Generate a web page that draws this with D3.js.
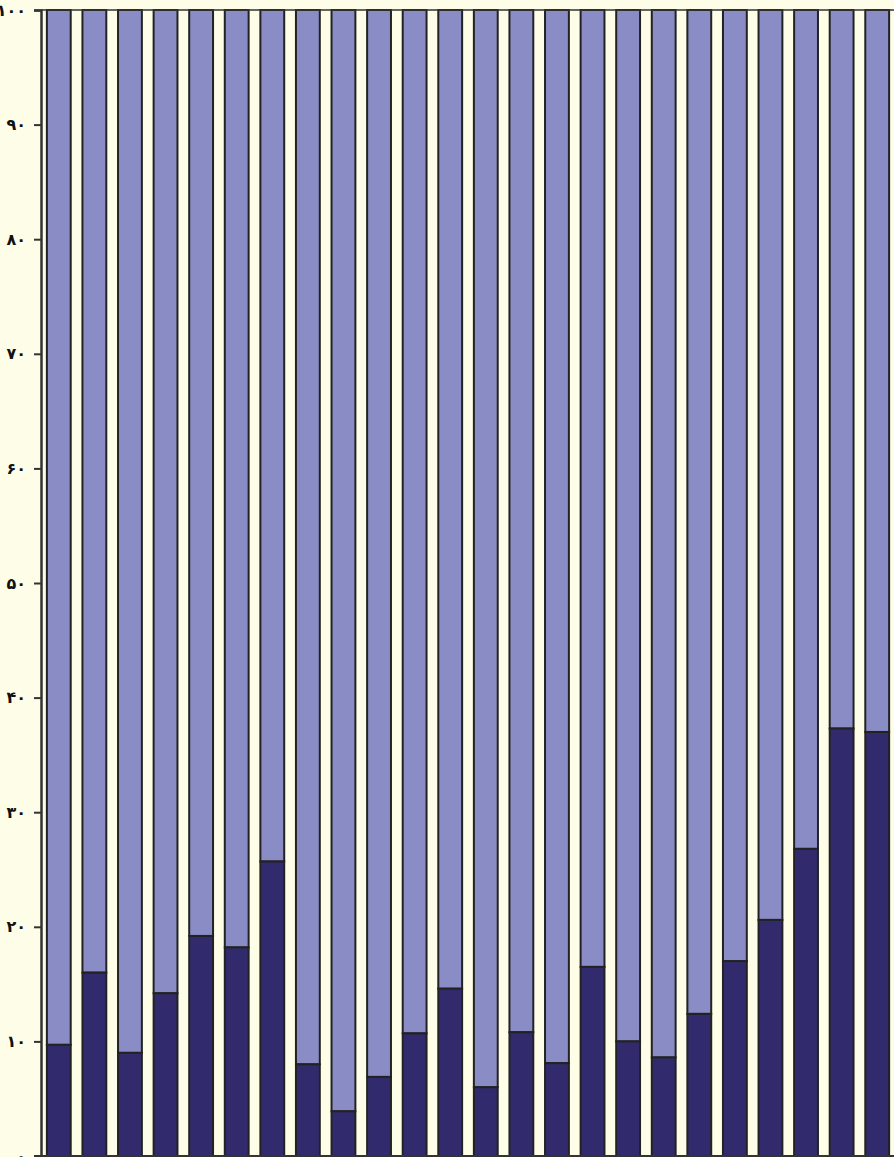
<!DOCTYPE html>
<html><head><meta charset="utf-8">
<script src="https://cdn.jsdelivr.net/npm/d3@7"></script>
<style>html,body{margin:0;padding:0;background:#FEFDE7;}svg{display:block;}</style>
</head><body>
<svg id="c" width="894" height="1157"></svg>
<script>
const categories = d3.range(1, 25).map(String);
const darkValues = [9.7, 16.0, 9.0, 14.2, 19.2, 18.2, 25.7, 8.0, 3.9, 6.9, 10.7, 14.6, 6.0, 10.8, 8.1, 16.5, 10.0, 8.6, 12.4, 17.0, 20.6, 26.8, 37.3, 37.0];
const lightValues = darkValues.map(v => 100 - v);
const tickValues = [0, 10, 20, 30, 40, 50, 60, 70, 80, 90, 100];
const tickLabels = ["۰", "۱۰", "۲۰", "۳۰", "۴۰", "۵۰", "۶۰", "۷۰", "۸۰", "۹۰", "۱۰۰"];

(function () {
const svg = d3.select("#c");
const mLeft = 41, mRight = 895, mTop = 10, mBottom = 1156;
const x = d3.scaleBand().domain(categories).range([mLeft, mRight]).paddingInner(0.33).paddingOuter(0.165);
const y = d3.scaleLinear().domain([0, 100]).range([mBottom, mTop]);

svg.append("rect").attr("width", 894).attr("height", 1157).attr("fill", "#FEFDE7");

const data = categories.map((c, i) => ({c, dark: darkValues[i], light: lightValues[i]}));
const g = svg.append("g");
g.selectAll("rect.l").data(data).join("rect").attr("class", "l")
  .attr("x", d => x(d.c)).attr("width", x.bandwidth())
  .attr("y", d => y(d.dark + d.light)).attr("height", d => y(d.dark) - y(d.dark + d.light))
  .attr("fill", "#8A8DC5").attr("stroke", "#222222").attr("stroke-width", 2);
g.selectAll("rect.d").data(data).join("rect").attr("class", "d")
  .attr("x", d => x(d.c)).attr("width", x.bandwidth())
  .attr("y", d => y(d.dark)).attr("height", d => y(0) - y(d.dark))
  .attr("fill", "#312B6E").attr("stroke", "#222222").attr("stroke-width", 2);

svg.append("line").attr("x1", mLeft).attr("x2", 894).attr("y1", y(100)).attr("y2", y(100))
  .attr("stroke", "#333").attr("stroke-width", 1.5);
svg.append("line").attr("x1", 34).attr("x2", 894).attr("y1", y(0)).attr("y2", y(0))
  .attr("stroke", "#333").attr("stroke-width", 2);

const yAxis = d3.axisLeft(y).tickValues(tickValues).tickSize(7).tickPadding(8)
  .tickFormat((d, i) => tickLabels[i]);
const ax = svg.append("g").attr("transform", `translate(${mLeft},0)`).call(yAxis);
ax.select(".domain").attr("stroke", "#333").attr("stroke-width", 2.5);
ax.selectAll(".tick line").attr("stroke", "#333").attr("stroke-width", 2);
ax.selectAll(".tick text").attr("font-family", "DejaVu Sans").attr("font-weight", "bold")
  .attr("font-size", 16).attr("fill", "#111");
})();
</script>
</body></html>
